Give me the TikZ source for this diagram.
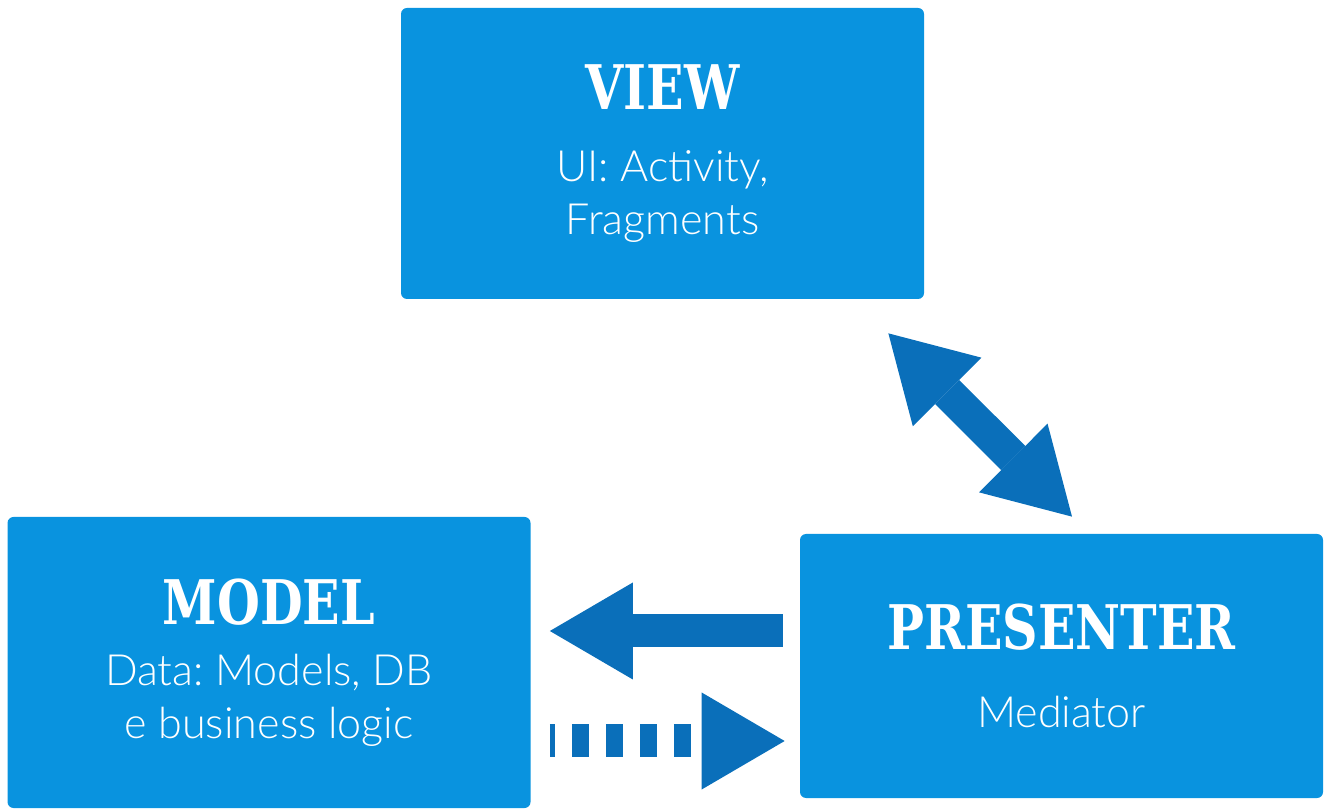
\documentclass[tikz,border=0pt]{standalone}
\usepackage{fontspec}
\usetikzlibrary{positioning, arrows.meta, calc}
\newfontfamily\headfont{DejaVu Serif}[FakeStretch=0.8]
\newfontfamily\bodyfont{Lato Light}
\definecolor{boxblue}{HTML}{0993DF}
\definecolor{arrowblue}{HTML}{0A6FBA}
\newcommand{\boxhead}[1]{{\headfont\bfseries\fontsize{35}{40}\selectfont #1}}
\frenchspacing

\begin{document}
\begin{tikzpicture}[
    every node/.style={font=\bodyfont\fontsize{24.5}{30}\selectfont},
    box/.style={
        rectangle, rounded corners=1.2mm, fill=boxblue, text=white,
        align=center, inner sep=0pt,
        minimum width=104.6mm, minimum height=58.2mm,
    },
    bigarrow/.style={
        draw=arrowblue, line width=6.6mm,
        -{Triangle[length=16.6mm, width=19.4mm, line width=0pt]},
    },
    dblarrow/.style={
        bigarrow, line width=6.8mm,
        {Triangle[length=16.6mm, width=19.4mm, line width=0pt]}-{Triangle[length=16.6mm, width=19.4mm, line width=0pt]},
    },
    dasharrow/.style={
        bigarrow, dash pattern=on 3.4mm off 3.4mm, dash phase=2.4mm,
    },
]
\useasboundingbox (0,0) rectangle (26.54,16.2);

% The three layers
\node[box] (view) at (13.25,13.13)
    {\boxhead{VIEW}\\[11pt] UI: Activity,\\ Fragments};
\node[box] (model) at (5.38,2.95)
    {\boxhead{MODEL}\\[5pt] Data: Models, DB\\ e business logic};
\node[box, minimum height=52.8mm] (presenter) at (21.23,2.88)
    {\boxhead{PRESENTER}\\[14pt] Mediator};

% --- View <-> Presenter ---
\draw[dblarrow] ([shift={(-0.72,-0.68)}]view.south east)
    -- ([shift={(0.21,0.34)}]presenter.north);

% --- Presenter -> Model ---
\draw[bigarrow, shorten <=3.4mm, shorten >=3.8mm]
    ([yshift=7mm]presenter.west) -- ([yshift=7mm]presenter.west -| model.east);

% --- Model -> Presenter (dashed) ---
\draw[dasharrow, shorten <=3.8mm, shorten >=3mm]
    ([yshift=-15mm]presenter.west -| model.east) -- ([yshift=-15mm]presenter.west);

\end{tikzpicture}
\end{document}
